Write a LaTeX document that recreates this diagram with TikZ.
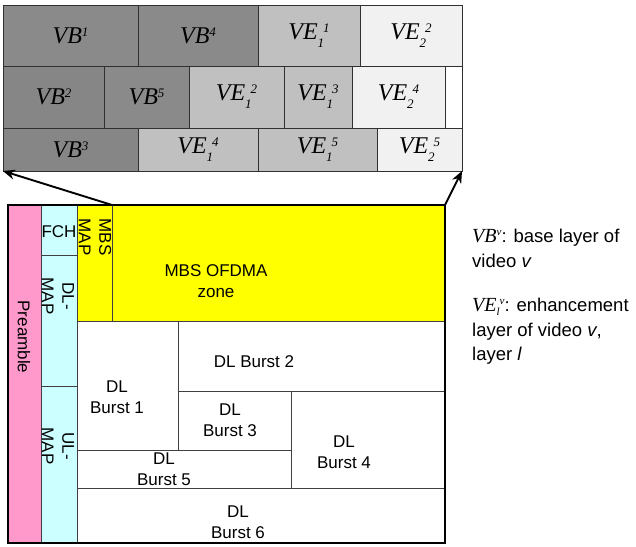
\documentclass[tikz,border=0pt]{standalone}
\usepackage{fontspec}
\setmainfont{Liberation Sans}
\newfontfamily\tnr{Liberation Serif}
\usetikzlibrary{arrows.meta}
\definecolor{vbgray}{HTML}{8A8A8A}
\definecolor{vbgrayb}{HTML}{868686}
\definecolor{veone}{HTML}{C0C0C0}
\definecolor{vetwo}{HTML}{F1F1F1}
\definecolor{gridline}{HTML}{303030}
\definecolor{frameline}{HTML}{404040}
\definecolor{prepink}{HTML}{FF99CC}
\definecolor{mapcyan}{HTML}{CCFFFF}
\definecolor{zoneyellow}{HTML}{FFFF00}
\newcommand\hisup[1]{\raisebox{7pt}{\fontsize{13}{13}\selectfont #1}}
\newcommand\losub[1]{\raisebox{-8pt}{\fontsize{13}{13}\selectfont #1}}
\newcommand\VBlab[1]{VB\hisup{#1}}
\newcommand\VElab[2]{VE\losub{#1}\kern-1pt\hisup{#2}}
\newcommand\lsup[1]{\raisebox{7pt}{\fontsize{11}{11}\selectfont #1}}
\newcommand\lsub[1]{\raisebox{-4pt}{\fontsize{11}{11}\selectfont #1}}
\newcommand\blk[7]{%
  \node[#6, minimum width={(#4)-(#2)}, minimum height={(#5)-(#3)}] (#1)
    at ({((#2)+(#4))/2},{((#3)+(#5))/2}) {#7};}
\begin{document}
\begin{tikzpicture}[x=1pt, y=-1pt,
  cellg/.style={draw=gridline, line width=0.8pt, inner sep=0pt, outer sep=0pt,
    font=\tnr\itshape\fontsize{24}{28}\selectfont},
  frm/.style={draw=frameline, line width=0.8pt, inner sep=0pt, outer sep=0pt},
  txt/.style={font=\fontsize{17}{20.5}\selectfont, align=center, inner sep=0pt},
  vtxt/.style={txt, rotate=-90},
  arr/.style={line width=1.9pt, -{Stealth[length=12pt,width=10pt]}},
  legtxt/.style={font=\fontsize{18.5}{24}\selectfont, anchor=base west, inner sep=0pt},
  legmath/.style={font=\tnr\itshape\fontsize{20}{24}\selectfont}]
\useasboundingbox (0,0) rectangle (636,546);
% ---- top grid ----
\blk{vb1}{3}{5}{138}{66}{cellg, fill=vbgray}{\VBlab{1}}
\blk{vb4}{138}{5}{258}{66}{cellg, fill=vbgray}{\VBlab{4}}
\blk{ve11}{258}{5}{360}{66}{cellg, fill=veone}{\VElab{1}{1}}
\blk{ve22}{360}{5}{462}{66}{cellg, fill=vetwo}{\VElab{2}{2}}
\blk{vb2}{3}{66}{104}{128}{cellg, fill=vbgrayb}{\VBlab{2}}
\blk{vb5}{104}{66}{189}{128}{cellg, fill=vbgray}{\VBlab{5}}
\blk{ve12}{189}{66}{284}{128}{cellg, fill=veone}{\VElab{1}{2}}
\blk{ve13}{284}{66}{352}{128}{cellg, fill=veone}{\VElab{1}{3}}
\blk{ve24}{352}{66}{445}{128}{cellg, fill=vetwo}{\VElab{2}{4}}
\blk{gap}{445}{66}{462}{128}{cellg, fill=white}{}
\blk{vb3}{3}{128}{138}{171}{cellg, fill=vbgrayb}{\VBlab{3}}
\blk{ve14}{138}{128}{258}{171}{cellg, fill=veone}{\VElab{1}{4}}
\blk{ve15}{258}{128}{377}{171}{cellg, fill=veone}{\VElab{1}{5}}
\blk{ve25}{377}{128}{462}{171}{cellg, fill=vetwo}{\VElab{2}{5}}
\draw[gridline, line width=1pt] (vb1.north west) rectangle (ve25.south east);
% ---- frame ----
\blk{pre}{8}{205}{41}{543}{frm, fill=prepink}{}
\blk{fch}{41}{205}{77}{255}{frm, fill=mapcyan}{}
\blk{dlmap}{41}{255}{77}{386}{frm, fill=mapcyan}{}
\blk{ulmap}{41}{386}{77}{543}{frm, fill=mapcyan}{}
\blk{mbsmap}{77}{205}{112}{321}{frm, fill=zoneyellow}{}
\blk{zone}{112}{205}{445}{321}{frm, fill=zoneyellow}{}
\blk{b1}{77}{321}{178}{450}{frm, fill=white}{}
\blk{b2}{178}{321}{445}{391}{frm, fill=white}{}
\blk{b3}{178}{391}{291}{450}{frm, fill=white}{}
\blk{b4}{291}{391}{445}{488}{frm, fill=white}{}
\blk{b5}{77}{450}{291}{488}{frm, fill=white}{}
\blk{b6}{77}{488}{445}{543}{frm, fill=white}{}
\draw[black, line width=1.1pt] (pre.north west) rectangle (b6.south east);
% ---- frame texts ----
\node[vtxt] (tpre) at (24,337) {Preamble};
\node[txt] (tfch) at (59,232) {FCH};
\node[vtxt] (tdlmap) at (58,296) {DL-\\MAP};
\node[vtxt] (tulmap) at (58,446) {UL-\\MAP};
\node[vtxt] (tmbsmap) at (95,237) {MBS\\MAP};
\node[txt] (tzone) at (216,281) {MBS OFDMA\\zone};
\node[txt] (tb1) at (117,397) {DL\\Burst 1};
\node[txt] (tb2) at (254,362) {DL Burst 2};
\node[txt] (tb3) at (230,420) {DL\\Burst 3};
\node[txt] (tb4) at (344,452) {DL\\Burst 4};
\node[txt] (tb5) at (164,469) {DL\\Burst 5};
\node[txt] (tb6) at (238,522) {DL\\Burst 6};
% ---- arrows ----
\draw[arr] (mbsmap.north east) -- (vb3.south west);
\draw[arr] (zone.north east) -- (ve25.south east);
% ---- legend ----
\node[legtxt] (leg1) at (472,242) {{\tnr\itshape\fontsize{20}{24}\selectfont VB\lsup{v}}: base layer of};
\node[legtxt] (leg2) at (472,267) {video \textit{v}};
\node[legtxt] (leg3) at (472,311) {{\tnr\itshape\fontsize{20}{24}\selectfont VE\lsub{l}\lsup{v}}: enhancement};
\node[legtxt] (leg4) at (472,336) {layer of video \textit{v},};
\node[legtxt] (leg5) at (472,360) {layer \textit{l}};
\end{tikzpicture}
\end{document}
